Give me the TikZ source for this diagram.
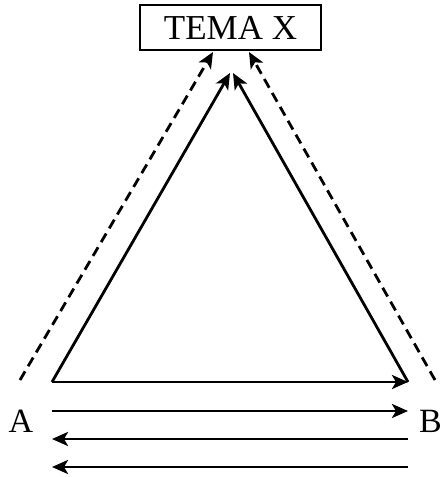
\documentclass[tikz,border=0pt]{standalone}
\usepackage{fontspec}
\setmainfont{Liberation Serif}
\usetikzlibrary{arrows.meta}
\tikzset{
  arr/.style={line width=2.8pt,-{Stealth[length=16pt,width=14pt,inset=4pt]}},
  darr/.style={arr,dash pattern=on 10pt off 6pt},
  lbl/.style={font=\fontsize{34}{34}\selectfont,inner sep=0pt},
}
\begin{document}
\begin{tikzpicture}[x=1pt,y=-1pt]
\useasboundingbox (0,0) rectangle (442,477);
\node[draw,line width=2.4pt,minimum width=181pt,minimum height=45pt,inner sep=0pt,font=\fontsize{35}{35}\selectfont] (tema) at (230.5,27.5) {TEMA X};
\node[lbl] (A) at (21,421) {A};
\node[lbl,anchor=west] (B) at (419,421) {B};
\coordinate (apexL) at (230,73);
\coordinate (apexR) at (233,73);
\coordinate (vA) at (52,382);
\coordinate (vB) at (408,382);
\coordinate (dA) at (20,380);
\coordinate (dB) at (435,380);
\coordinate (dTL) at (213,52);
\coordinate (dTR) at (249,52);
\coordinate (l1a) at (52,411);
\coordinate (l1b) at (408,411);
\coordinate (l2a) at (52,439);
\coordinate (l2b) at (408,439);
\coordinate (l3a) at (52,467);
\coordinate (l3b) at (408,467);
\draw[arr] (vA) -- (apexL);
\draw[arr] (vB) -- (apexR);
\draw[arr] (vA) -- (vB);
\draw[darr] (dA) -- (dTL);
\draw[darr] (dB) -- (dTR);
\draw[arr] (l1a) -- (l1b);
\draw[arr] (l2b) -- (l2a);
\draw[arr] (l3b) -- (l3a);
\end{tikzpicture}
\end{document}
